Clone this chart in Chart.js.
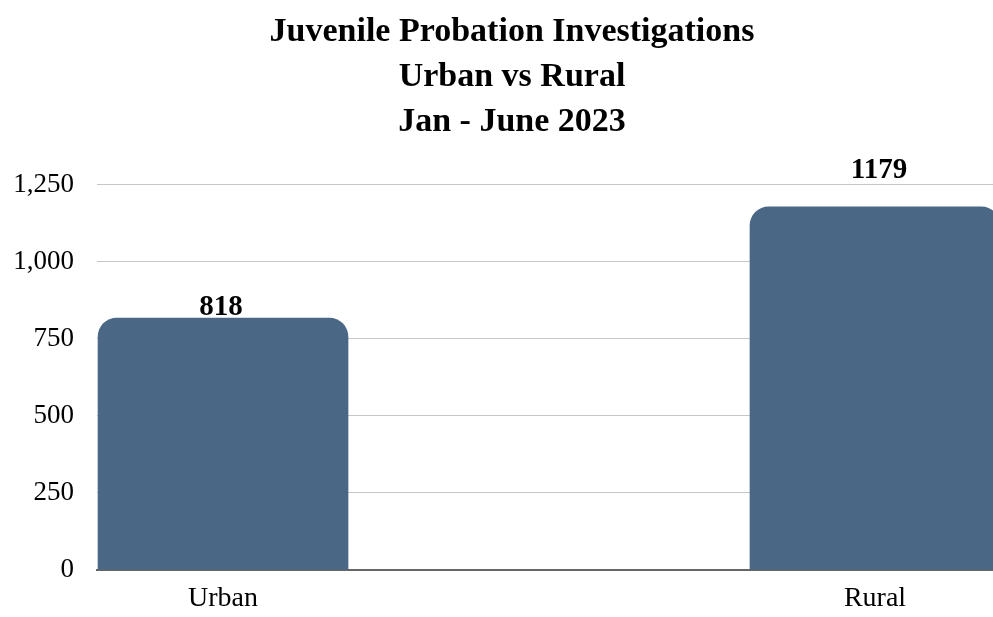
<!DOCTYPE html>
<html>
<head>
<meta charset="utf-8">
<script src="https://cdn.jsdelivr.net/npm/chart.js@4/dist/chart.umd.min.js"></script>
<style>
  html, body { margin: 0; padding: 0; background: #ffffff; }
  #wrap { width: 993px; height: 617px; position: relative; }
</style>
</head>
<body>
<div id="wrap"><canvas id="probationChart"></canvas></div>
<script>
const categories = ['Urban', 'Rural'];
const investigations = [818, 1179];
const yTicks = [0, 250, 500, 750, 1000, 1250];
const titleLines = ['Juvenile Probation Investigations', 'Urban vs Rural', 'Jan - June 2023'];

const serif = '"Liberation Serif", "Times New Roman", serif';
const barColor = '#4a6886';

// value labels drawn above each bar (baseline offset from bar top)
const labelOffsets = [3, 29];
const valueLabels = {
    id: 'valueLabels',
    afterDatasetsDraw(chart) {
        const ctx = chart.ctx;
        const meta = chart.getDatasetMeta(0);
        ctx.save();
        ctx.font = 'bold 29px ' + serif;
        ctx.fillStyle = '#000000';
        ctx.textAlign = 'center';
        ctx.textBaseline = 'alphabetic';
        meta.data.forEach((bar, i) => {
            ctx.fillText(String(investigations[i]), bar.x + (i === 1 ? 4 : -2), bar.y - labelOffsets[i]);
        });
        ctx.restore();
    }
};

// title sits a little right of the canvas centre in the original
const titleShift = {
    id: 'titleShift',
    afterLayout(chart) {
        if (chart.titleBlock) chart.titleBlock.left += 31;
    }
};

const ctx = document.getElementById('probationChart').getContext('2d');
new Chart(ctx, {
    type: 'bar',
    data: {
        datasets: [{
            data: investigations.map((v, i) => ({ x: i, y: v })),
            backgroundColor: barColor,
            borderRadius: { topLeft: 19, topRight: 19 },
            borderSkipped: 'bottom',
            barThickness: 250
        }]
    },
    options: {
        responsive: true,
        maintainAspectRatio: false,
        animation: false,
        layout: { padding: 0 },
        plugins: {
            legend: { display: false },
            tooltip: { enabled: false },
            title: {
                display: true,
                text: titleLines,
                color: '#000000',
                font: { family: serif, size: 34, weight: 'bold', lineHeight: 1.3235 },
                padding: { top: 10, bottom: 40 }
            }
        },
        scales: {
            x: {
                type: 'linear',
                offset: false,
                min: -0.1933,
                max: 1.181,
                afterBuildTicks: (scale) => {
                    scale.ticks = categories.map((c, i) => ({ value: i }));
                },
                afterFit: (scale) => { scale.height = 47; },
                ticks: {
                    color: '#000000',
                    font: { family: serif, size: 28 },
                    padding: 12,
                    maxRotation: 0,
                    callback: (v) => categories[v]
                },
                grid: { display: false, drawTicks: false },
                border: { display: true, color: '#666666', width: 2 }
            },
            y: {
                min: 0,
                max: 1250,
                afterBuildTicks: (scale) => {
                    scale.ticks = yTicks.map(v => ({ value: v }));
                },
                afterFit: (scale) => { scale.width = 97; },
                ticks: {
                    color: '#000000',
                    font: { family: serif, size: 27 },
                    padding: 23,
                    callback: (v) => v.toLocaleString('en-US')
                },
                grid: { color: '#c6c6c6', lineWidth: 1, drawTicks: false },
                border: { display: false }
            }
        }
    },
    plugins: [valueLabels, titleShift]
});
</script>
</body>
</html>
